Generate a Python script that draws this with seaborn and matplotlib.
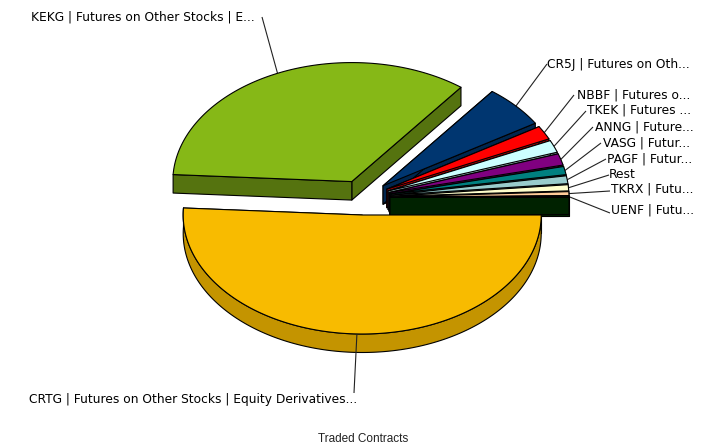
import numpy as np
import matplotlib
matplotlib.use("Agg")
import matplotlib.pyplot as plt
import seaborn as sns

labels = ["UENF | Futu...", "TKRX | Futu...", "Rest", "PAGF | Futur...", "VASG | Futur...",
          "ANNG | Future...", "TKEK | Futures ...", "NBBF | Futures o...", "CR5J | Futures on Oth...",
          "KEKG | Futures on Other Stocks | E...", "CRTG | Futures on Other Stocks | Equity Derivatives..."]
traded = [0.19, 0.53, 0.83, 1.06, 1.11, 1.56, 1.67, 1.86, 5.75, 34.5, 50.94]
top_colors = ["#002200", "#FFCC99", "#FFFFCC", "#99CCCC", "#008080", "#800080",
              "#CCFFFF", "#FF0000", "#003670", "#86B817", "#F8BB00"]
wall_colors = ["#002200", "#C49A70", "#C4C49A", "#6F9999", "#005A5A", "#560056",
               "#8FB3B3", "#A80000", "#00264E", "#55730F", "#C49400"]
label_xy = [(611, 210), (611, 189), (609, 175), (607, 159), (603, 143),
            (595, 127), (587, 110), (577, 95), (547, 64.5), (31, 17), (29, 399)]
elbow_xy = [(610, 213), (610, 191), (609, 175), (606, 159), (601, 143),
            (593, 127), (586, 111), (574, 95), (547, 64), (262, 17), (354, 393)]
draw_order = [9, 8, 7, 6, 5, 4, 3, 2, 1, 0, 10]

CX, CY, RX, RY, DEPTH, EXPL_X, EXPL_Y = 363, 197.5, 179, 119, 18.5, 27, 17.5

sns.set_theme(style="white")
palette = sns.color_palette(top_colors)
walls = sns.color_palette(wall_colors)

fig = plt.figure(figsize=(7.18, 4.48), dpi=100)
ax = fig.add_axes([0, 0, 1, 1])
ax.set_xlim(0, 718)
ax.set_ylim(448, 0)
ax.axis("off")

shares = np.array(traded) / np.sum(traded)
edges = np.concatenate([[0], np.cumsum(shares) * 360])
style = dict(edgecolor="black", linewidth=0.8, joinstyle="round")

for z, i in enumerate(draw_order):
    a0, a1 = edges[i], edges[i + 1]
    mid = np.radians((a0 + a1) / 2)
    cx = CX + EXPL_X * np.cos(mid)
    cy = CY - EXPL_Y * np.sin(mid)
    t = np.radians(np.linspace(a0, a1, max(int(a1 - a0) * 2, 6)))
    ax_x = cx + RX * np.cos(t)
    ax_y = cy - RY * np.sin(t)
    # radial walls
    for k in (0, -1):
        ax.fill([cx, ax_x[k], ax_x[k], cx],
                [cy, ax_y[k], ax_y[k] + DEPTH, cy + DEPTH],
                facecolor=walls[i], zorder=z * 3 + 1, **style)
    # outer wall, only where the rim faces the viewer
    if a1 > 180:
        ax.fill(np.r_[ax_x, ax_x[::-1]], np.r_[ax_y, ax_y[::-1] + DEPTH],
                facecolor=walls[i], zorder=z * 3 + 1, **style)
    # top face
    ax.fill(np.r_[cx, ax_x], np.r_[cy, ax_y], facecolor=palette[i], zorder=z * 3 + 2, **style)
    # leader and label
    sx = cx + RX * np.cos(mid)
    sy = cy - RY * np.sin(mid)
    ax.plot([sx, elbow_xy[i][0]], [sy, elbow_xy[i][1]], color="#222222", lw=0.8,
            zorder=z * 3 + 3 if i == 10 else 0.5, solid_capstyle="butt")
    ax.text(label_xy[i][0], label_xy[i][1], labels[i], fontsize=8.85, family="DejaVu Sans",
            color="black", ha="left", va="center", zorder=60)

ax.text(363, 439, "Traded Contracts", fontsize=8.5, family="Liberation Sans",
        color="#222222", ha="center", va="center")
fig.savefig("out.png", dpi=100)
